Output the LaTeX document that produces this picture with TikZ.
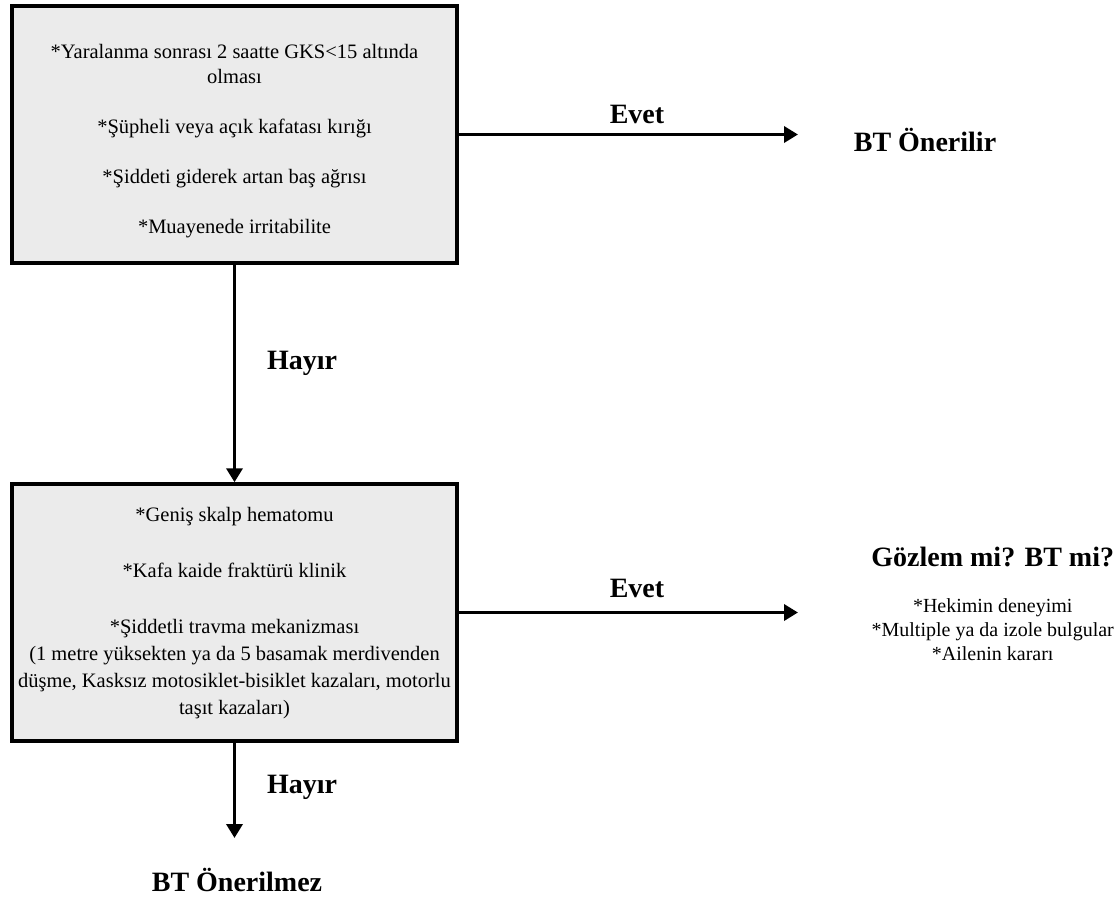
\documentclass[tikz,border=0pt]{standalone}
\usepackage{fontspec}
\setmainfont{Liberation Serif}
\usetikzlibrary{arrows.meta}
\definecolor{boxgray}{RGB}{235,235,235}
\begin{document}
\begin{tikzpicture}[x=1pt,y=-1pt,
  box/.style={draw=black, line width=3.5pt, fill=boxgray, minimum width=445pt, minimum height=257pt, inner sep=0pt},
  boxtextA/.style={align=center, inner sep=0pt, font=\fontsize{20.5}{25}\selectfont},
  boxtextB/.style={align=center, inner sep=0pt, font=\fontsize{20.5}{27}\selectfont},
  lbl/.style={font=\fontsize{28}{32}\selectfont\bfseries, inner sep=0pt},
  res/.style={font=\fontsize{28}{32}\selectfont\bfseries, inner sep=0pt},
  subtext/.style={align=center, font=\fontsize{20}{24}\selectfont, inner sep=0pt},
  conn/.style={line width=3.5pt, -{Triangle[length=14pt,width=16pt]}}]
\useasboundingbox (0,0) rectangle (1117,903);
\node[box] (b1) at (234.5,134.5) {};
\node[boxtextA] (b1t) at (234.5,141) {*Yaralanma sonrası 2 saatte GKS<15 altında\\olması\\[25pt]*Şüpheli veya açık kafatası kırığı\\[25pt]*Şiddeti giderek artan baş ağrısı\\[25pt]*Muayenede irritabilite};
\node[box] (b2) at (234.5,612.5) {};
\node[boxtextB] (b2t) at (234.5,613) {*Geniş skalp hematomu\\[29pt]*Kafa kaide fraktürü klinik\\[29pt]*Şiddetli travma mekanizması\\(1 metre yüksekten ya da 5 basamak merdivenden\\düşme, Kasksız motosiklet-bisiklet kazaları, motorlu\\taşıt kazaları)};
\coordinate (t1) at (798,134.5);
\coordinate (t2) at (798,612.5);
\coordinate (t3) at (234.5,838);
\draw[conn] (b1.east) -- (t1);
\draw[conn] (b1.south) -- (b2.north);
\draw[conn] (b2.east) -- (t2);
\draw[conn] (b2.south) -- (t3);
\node[lbl] (e1) at (637,114) {Evet};
\node[lbl] (e2) at (637,588) {Evet};
\node[lbl] (h1) at (302,363) {Hayır};
\node[lbl] (h2) at (302,787) {Hayır};
\node[res] (r1) at (925,140) {BT Önerilir};
\node[res] (r3) at (237,880) {BT Önerilmez};
\node[subtext, anchor=north east] (sub) at (1114,598) {*Hekimin deneyimi\\*Multiple ya da izole bulgular\\*Ailenin kararı};
\coordinate (gozc) at (0,557);
\node[res] (r2) at (sub.north |- gozc) {Gözlem mi? BT mi?};
\end{tikzpicture}
\end{document}
